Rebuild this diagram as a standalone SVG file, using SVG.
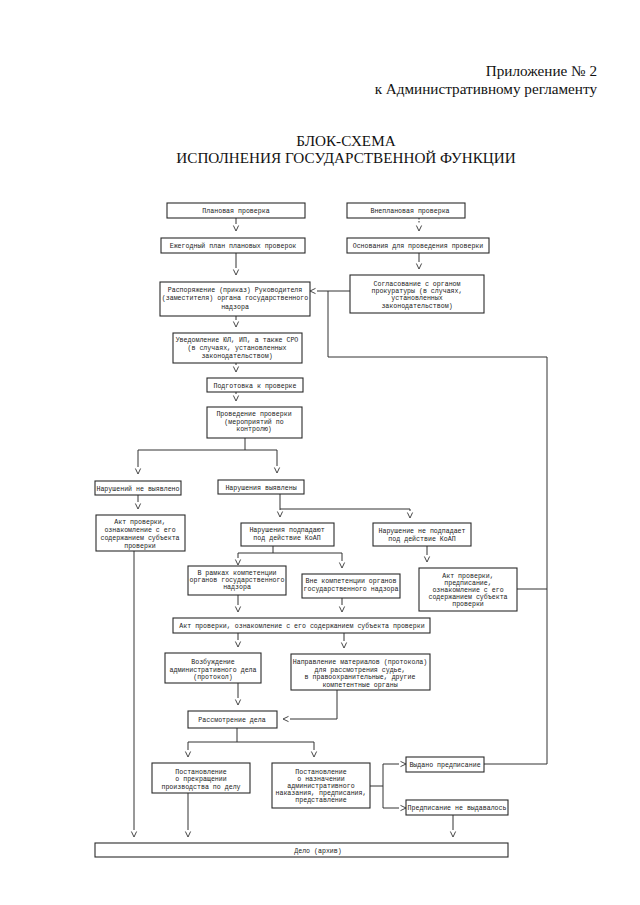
<svg xmlns="http://www.w3.org/2000/svg" width="640" height="905" viewBox="0 0 640 905">
<defs>
<style>
.hd{font-family:"Liberation Serif","Times New Roman",serif;font-size:15.2px;fill:#111}
.t{font-family:"Liberation Mono","Courier New",monospace;font-size:6.6px;fill:#1a1a1a;text-anchor:middle}
.b{fill:#fff;stroke:#2a2a2a;stroke-width:1.1}
.c{fill:none;stroke:#333;stroke-width:1}
.a{marker-end:url(#v)}
</style>
<marker id="v" markerUnits="userSpaceOnUse" markerWidth="10" markerHeight="10" refX="0" refY="0" orient="auto" overflow="visible">
<path d="M1.5,-2.6 L7,0 L1.5,2.6" fill="none" stroke="#333" stroke-width="0.9"/>
</marker>
</defs>
<rect width="640" height="905" fill="#fff"/>
<g id="header">
<text class="hd" x="597" y="76" text-anchor="end">Приложение № 2</text>
<text class="hd" x="597" y="94" text-anchor="end">к Административному регламенту</text>
<text class="hd" x="346" y="146" text-anchor="middle">БЛОК-СХЕМА</text>
<text class="hd" x="346" y="163" text-anchor="middle">ИСПОЛНЕНИЯ ГОСУДАРСТВЕННОЙ ФУНКЦИИ</text>
</g>
<g id="connectors">
<path class="c a" d="M236,218 V224"/>
<path class="c a" d="M236,253 V268"/>
<path class="c a" d="M236,316 V320"/>
<path class="c a" d="M236,363 V365"/>
<path class="c a" d="M236,392 V394"/>
<path class="c a" d="M419,218 V224" stroke-dasharray="1.5 1.5"/>
<path class="c a" d="M419,253 V262"/>
<path class="c a" d="M350,291 H317"/>
<path class="c" d="M328,291 V357 H547 V764 H484"/>
<path class="c" d="M517,589 H547"/>
<path class="c" d="M245,438 V450 M138,450 H277"/>
<path class="c a" d="M138,450 V467"/>
<path class="c a" d="M277,450 V466"/>
<path class="c a" d="M138,495 V502"/>
<path class="c a" d="M134,551 V830"/>
<path class="c a" d="M280,494 V510"/>
<path class="c a" d="M280,509 H410 V511"/>
<path class="c" d="M273,546 V553 M238,553 H342"/>
<path class="c a" d="M238,553 V558"/>
<path class="c a" d="M342,553 V561"/>
<path class="c a" d="M427,546 V555"/>
<path class="c a" d="M238,595 V605"/>
<path class="c a" d="M342,598 V605"/>
<path class="c a" d="M238,633 V640"/>
<path class="c a" d="M344,633 V641"/>
<path class="c a" d="M238,683 V698"/>
<path class="c a" d="M337,690 V719 H290"/>
<path class="c" d="M237,728 V742 M188,742 H314"/>
<path class="c a" d="M188,742 V750"/>
<path class="c a" d="M314,742 V750"/>
<path class="c" d="M370,786 H383 M383,764 V808"/>
<path class="c a" d="M383,764 H399"/>
<path class="c a" d="M383,808 H399"/>
<path class="c a" d="M453,815 V830"/>
<path class="c a" d="M188,793 V830"/>
</g>
<g id="n1"><rect class="b" x="167" y="203" width="138" height="15"/><text class="t" x="236" y="213">Плановая проверка</text></g>
<g id="n2"><rect class="b" x="347" y="203" width="118" height="15"/><text class="t" x="410" y="213">Внеплановая проверка</text></g>
<g id="n3"><rect class="b" x="161" y="238" width="144" height="15"/><text class="t" x="233" y="248">Ежегодный план плановых проверок</text></g>
<g id="n4"><rect class="b" x="347" y="238" width="142" height="15"/><text class="t" x="418" y="248">Основания для проведения проверки</text></g>
<g id="n5"><rect class="b" x="160" y="282" width="150" height="34"/><text class="t" x="235" y="292">Распоряжение (приказ) Руководителя</text><text class="t" x="235" y="300">(заместителя) органа государственного</text><text class="t" x="235" y="309">надзора</text></g>
<g id="n6"><rect class="b" x="350" y="275" width="134" height="38"/><text class="t" x="417" y="286">Согласование с органом</text><text class="t" x="417" y="293">прокуратуры (в случаях,</text><text class="t" x="417" y="300">установленных</text><text class="t" x="417" y="308">законодательством)</text></g>
<g id="n7"><rect class="b" x="173" y="333" width="129" height="30"/><text class="t" x="237" y="342">Уведомление ЮЛ, ИП, а также СРО</text><text class="t" x="237" y="350">(в случаях, установленных</text><text class="t" x="237" y="358">законодательством)</text></g>
<g id="n8"><rect class="b" x="207" y="378" width="96" height="14"/><text class="t" x="255" y="387.5">Подготовка к проверке</text></g>
<g id="n9"><rect class="b" x="207" y="407" width="95" height="31"/><text class="t" x="254" y="416">Проведение проверки</text><text class="t" x="254" y="424">(мероприятий по</text><text class="t" x="254" y="431">контролю)</text></g>
<g id="n10"><rect class="b" x="95" y="481" width="86" height="14"/><text class="t" x="138" y="490.5">Нарушений не выявлено</text></g>
<g id="n11"><rect class="b" x="218" y="480" width="86" height="14"/><text class="t" x="261" y="489.5">Нарушения выявлены</text></g>
<g id="n12"><rect class="b" x="96" y="515" width="89" height="36"/><text class="t" x="140" y="524">Акт проверки,</text><text class="t" x="140" y="532">ознакомление с его</text><text class="t" x="140" y="540">содержанием субъекта</text><text class="t" x="140" y="548">проверки</text></g>
<g id="n13"><rect class="b" x="241" y="523" width="93" height="23"/><text class="t" x="287" y="532">Нарушения подпадают</text><text class="t" x="287" y="540">под действие КоАП</text></g>
<g id="n14"><rect class="b" x="373" y="523" width="98" height="23"/><text class="t" x="422" y="533">Нарушение не подпадает</text><text class="t" x="422" y="541">под действие КоАП</text></g>
<g id="n15"><rect class="b" x="188" y="566" width="98" height="29"/><text class="t" x="237" y="575">В рамках компетенции</text><text class="t" x="237" y="582">органов государственного</text><text class="t" x="237" y="589">надзора</text></g>
<g id="n16"><rect class="b" x="302" y="574" width="98" height="24"/><text class="t" x="351" y="583">Вне компетенции органов</text><text class="t" x="351" y="591">государственного надзора</text></g>
<g id="n17"><rect class="b" x="419" y="568" width="98" height="43"/><text class="t" x="468" y="578">Акт проверки,</text><text class="t" x="468" y="585">предписание,</text><text class="t" x="468" y="592">ознакомление с его</text><text class="t" x="468" y="599">содержанием субъекта</text><text class="t" x="468" y="606">проверки</text></g>
<g id="n18"><rect class="b" x="173" y="618" width="257" height="15"/><text class="t" x="302" y="628">Акт проверки, ознакомление с его содержанием субъекта проверки</text></g>
<g id="n19"><rect class="b" x="165" y="653" width="96" height="30"/><text class="t" x="213" y="664">Возбуждение</text><text class="t" x="213" y="672">административного дела</text><text class="t" x="213" y="679">(протокол)</text></g>
<g id="n20"><rect class="b" x="291" y="654" width="139" height="36"/><text class="t" x="360" y="664">Направление материалов (протокола)</text><text class="t" x="360" y="672">для рассмотрения судье,</text><text class="t" x="360" y="679">в правоохранительные, другие</text><text class="t" x="360" y="687">компетентные органы</text></g>
<g id="n21"><rect class="b" x="188" y="711" width="89" height="17"/><text class="t" x="232" y="722">Рассмотрение дела</text></g>
<g id="n22"><rect class="b" x="152" y="763" width="98" height="30"/><text class="t" x="201" y="774">Постановление</text><text class="t" x="201" y="781">о прекращении</text><text class="t" x="201" y="789">производства по делу</text></g>
<g id="n23"><rect class="b" x="272" y="763" width="98" height="45"/><text class="t" x="321" y="774">Постановление</text><text class="t" x="321" y="781">о назначении</text><text class="t" x="321" y="788">административного</text><text class="t" x="321" y="795">наказания, предписания,</text><text class="t" x="321" y="802">представление</text></g>
<g id="n24"><rect class="b" x="406" y="757" width="78" height="15"/><text class="t" x="445" y="767">Выдано предписание</text></g>
<g id="n25"><rect class="b" x="406" y="800" width="102" height="15"/><text class="t" x="457" y="810">Предписание не выдавалось</text></g>
<g id="n26"><rect class="b" x="95" y="843" width="413" height="14"/><text class="t" x="318" y="852.5">Дело (архив)</text></g>
</svg>
